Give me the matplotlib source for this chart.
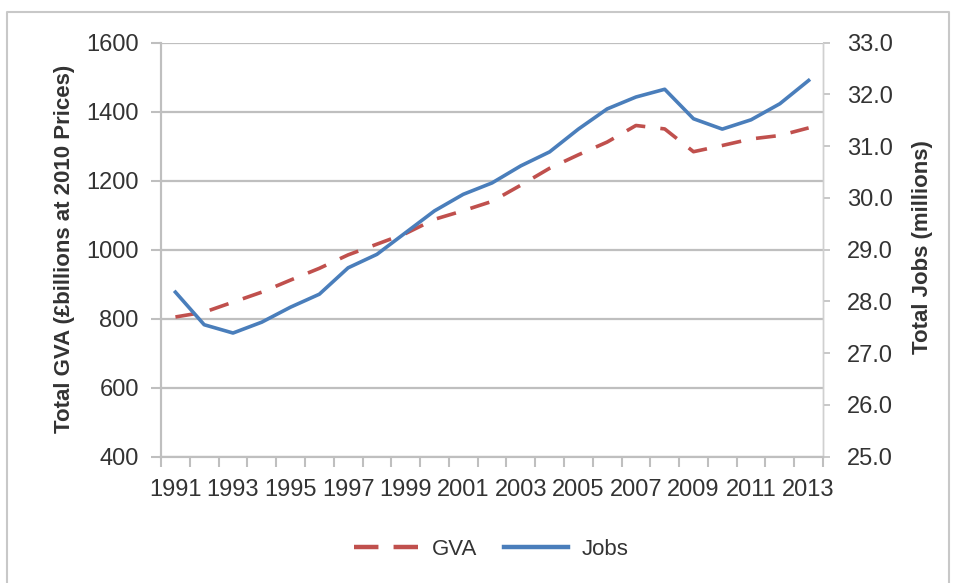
import numpy as np
import matplotlib
matplotlib.use('Agg')
import matplotlib.pyplot as plt
from matplotlib.lines import Line2D

years = list(range(1991, 2014))
gva = [805, 819, 848, 877, 912, 946, 985, 1016, 1047, 1088, 1113, 1140,
       1187, 1236, 1275, 1312, 1360, 1350, 1284, 1302, 1321, 1331, 1353]
jobs = [28.18, 27.55, 27.39, 27.60, 27.89, 28.14, 28.65, 28.91, 29.33, 29.75, 30.07, 30.29,
        30.62, 30.89, 31.33, 31.72, 31.95, 32.10, 31.53, 31.33, 31.51, 31.82, 32.27]
gva_ticks = [400, 600, 800, 1000, 1200, 1400, 1600]
jobs_ticks = [25, 26, 27, 28, 29, 30, 31, 32, 33]

plt.rcParams['font.family'] = ['Liberation Sans', 'DejaVu Sans']
txt = '#333333'
grid = '#bfbfbf'
red = '#c0504d'
blue = '#4a7ebb'

fig = plt.figure(figsize=(9.54, 5.83), dpi=100)
ax = fig.add_axes([0.1688, 0.2166, 0.6939, 0.7102])
ax2 = ax.twinx()

x = np.arange(len(years))
ax.plot(x, gva, color=red, lw=2.6, dashes=(5.5, 4.2), solid_capstyle='butt', label='GVA')
ax2.plot(x, jobs, color=blue, lw=2.6, label='Jobs')

ax.set_xlim(-0.5, len(years) - 0.5)
ax.set_ylim(400, 1600)
ax.set_yticks(gva_ticks)
ax2.set_ylim(25, 33)
ax2.set_yticks(jobs_ticks)
ax2.set_yticklabels(['%.1f' % v for v in jobs_ticks])

ax.set_xticks(x[::2])
ax.set_xticklabels([str(y) for y in years[::2]])
ax.set_xticks(np.arange(-0.5, len(years), 1), minor=True)
ax.tick_params(axis='x', which='major', length=0, pad=16, labelsize=17, labelcolor=txt)
ax.tick_params(axis='x', which='minor', length=7, width=1.5, color=grid, direction='out')
ax.tick_params(axis='y', length=7, width=1.5, color=grid, pad=9, labelsize=17, labelcolor=txt)
ax2.tick_params(axis='y', length=5, width=1.2, color=grid, pad=12, labelsize=17, labelcolor=txt)

ax.yaxis.grid(True, color=grid, lw=1.6)
ax.set_axisbelow(True)
for a in (ax, ax2):
    a.spines['top'].set_visible(False)
    a.spines['left'].set_color(grid)
    a.spines['left'].set_linewidth(1.5)
    a.spines['bottom'].set_color(grid)
    a.spines['bottom'].set_linewidth(1.5)
    a.spines['right'].set_color('#d0d0d0')
    a.spines['right'].set_linewidth(1.0)

fig.text(0.068, 0.5735, 'Total GVA (\u00a3billions at 2010 Prices)', rotation=90,
         ha='center', va='center', fontsize=16, fontweight='bold', color=txt)
fig.text(0.9675, 0.576, 'Total Jobs (millions)', rotation=90,
         ha='center', va='center', fontsize=16, fontweight='bold', color=txt)

handles = [Line2D([], [], color=red, lw=3.2, dashes=(5.5, 3.4)),
           Line2D([], [], color=blue, lw=3.2)]
fig.legend(handles, ['GVA', 'Jobs'], loc='center', bbox_to_anchor=(0.515, 0.058),
           ncol=2, frameon=False, fontsize=16, handlelength=2.9, handletextpad=0.6,
           columnspacing=1.2, labelcolor=txt)

# light border round the chart
fig.add_artist(Line2D([0.0073, 0.0073, 0.9947, 0.9947], [0.0, 0.9794, 0.9794, 0.0],
                      transform=fig.transFigure, color='#c8c8c8', lw=1.5))

fig.savefig('out.png', dpi=100)
